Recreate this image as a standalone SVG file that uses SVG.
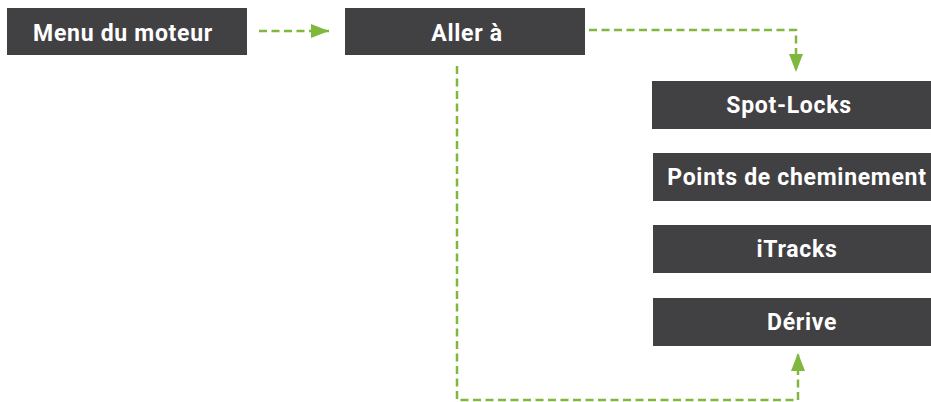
<svg xmlns="http://www.w3.org/2000/svg" width="931" height="402" viewBox="0 0 931 402">
<style>
.box{fill:#414042}
.lbl{font-family:Roboto,"Liberation Sans",sans-serif;font-weight:700;font-size:23px;letter-spacing:0.7px;fill:#ffffff;text-anchor:middle}
.con{fill:none;stroke:#7fb83c;stroke-width:2.5;stroke-dasharray:8 4.5}
</style>
<defs>
<marker id="ah" markerUnits="userSpaceOnUse" markerWidth="18" markerHeight="14" viewBox="0 0 18 14" refX="18" refY="7" orient="auto">
<path d="M0,0 L18,7 L0,14 Z" fill="#7fb83c"/>
</marker>
</defs>
<rect width="931" height="402" fill="#ffffff"/>
<g id="connectors">
<path class="con" d="M259,31 H329" marker-end="url(#ah)"/>
<path class="con" d="M589,30 H796 V72" marker-end="url(#ah)"/>
<path class="con" d="M457,66 V400 H798 V353" marker-end="url(#ah)"/>
</g>
<g id="menu-moteur"><rect class="box" x="7" y="8" width="240" height="47"/><text class="lbl" x="123" y="40.5">Menu du moteur</text></g>
<g id="aller-a"><rect class="box" x="345" y="8" width="240" height="47"/><text class="lbl" x="467" y="40.5">Aller à</text></g>
<g id="spot-locks"><rect class="box" x="652" y="81" width="279" height="48"/><text class="lbl" x="789" y="113">Spot-Locks</text></g>
<g id="points"><rect class="box" x="653" y="153" width="278" height="48"/><text class="lbl" x="797" y="185">Points de cheminement</text></g>
<g id="itracks"><rect class="box" x="653" y="225" width="278" height="48"/><text class="lbl" x="797" y="257">iTracks</text></g>
<g id="derive"><rect class="box" x="653" y="298" width="278" height="48"/><text class="lbl" x="802" y="330">Dérive</text></g>
</svg>
